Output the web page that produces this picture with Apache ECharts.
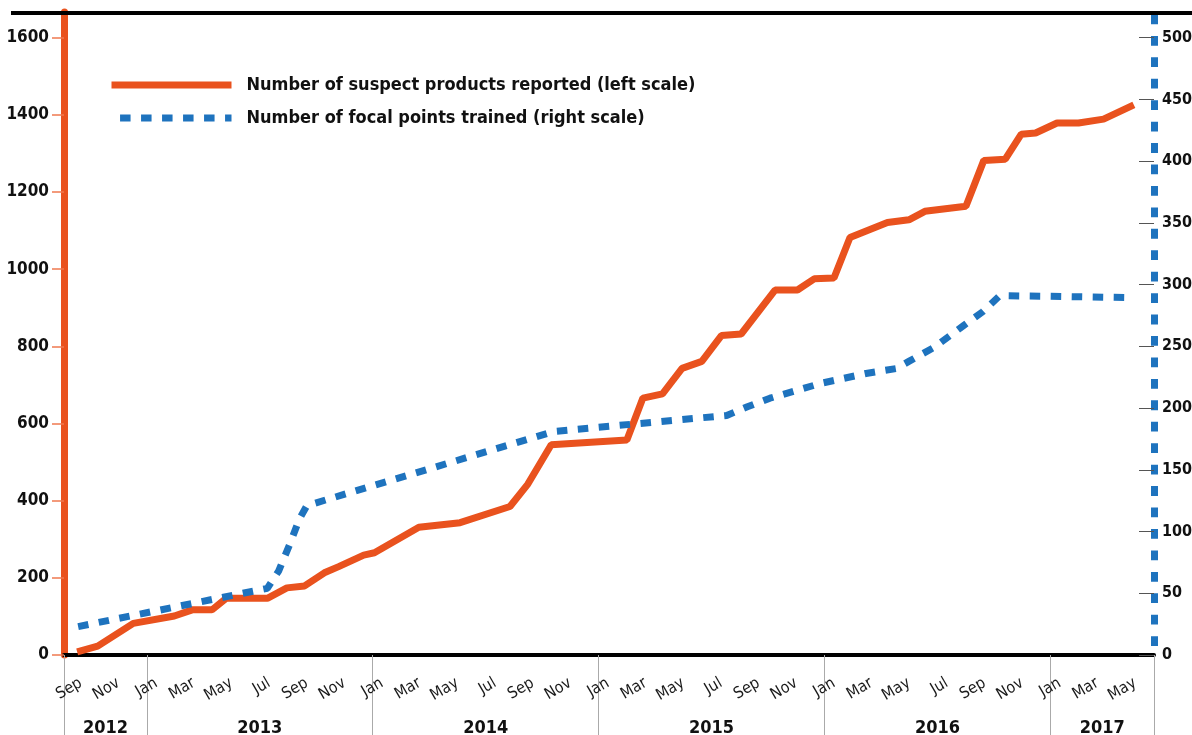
<!DOCTYPE html>
<html><head><meta charset="utf-8">
<script src="https://cdn.jsdelivr.net/npm/echarts@6/dist/echarts.min.js"></script>
<style>html,body{margin:0;padding:0;background:#fff}#c{width:1192px;height:735px}</style>
</head><body><div id="c"></div>
<script>
// ---- data (x = months since 1 Sep 2012) ----
const seriesNames = ['Number of suspect products reported (left scale)', 'Number of focal points trained (right scale)'];
const monthLabels = ['Sep','Nov','Jan','Mar','May','Jul','Sep','Nov','Jan','Mar','May','Jul','Sep','Nov','Jan','Mar','May','Jul','Sep','Nov','Jan','Mar','May','Jul','Sep','Nov','Jan','Mar','May'];
const yearLabels = ['2012','2013','2014','2015','2016','2017'];
const suspectX = [0.3,1.39,3.28,5.46,6.41,7.46,8.22,10.4,11.44,12.38,13.43,14.19,15.52,16.09,18.45,20.64,23.29,24.24,25.48,29.5,30.35,31.39,32.43,33.48,34.52,35.57,37.37,38.56,39.45,40.5,41.35,43.34,44.48,45.33,47.51,48.46,49.6,50.45,51.21,52.35,53.49,54.82,56.43];
const suspectY = [8,23,82,101,117,117,147,147,174,179,213,229,259,265,331,343,385,443,545,557,666,677,743,761,828,832,946,946,975,977,1082,1121,1128,1150,1163,1282,1285,1350,1353,1379,1379,1389,1426];
const focalX = [0.35,10.4,11.0,11.6,12.1,12.5,25.6,29.1,34.8,35.9,37.1,39.8,42.2,43.8,44.5,45.8,47.4,48.4,49.3,52.0,56.0];
const focalY = [23,54,68,90,110,121,181,186,194,201,208,220,228,232,238,249,267,278,291,290.5,289.5];

const RED = '#E9521E', BLUE = '#1E73BE';
const FONT = "'Liberation Sans Narrow','DejaVu Sans Condensed','Arial Narrow',sans-serif";
const X_MIN = -0.4, X_MAX = 57.5;
const L_MAX = 1666.6, R_MAX = 520.8;

const yearStart = y => (y - 2013) * 12 + 4;
const yearBounds = [X_MIN];
const yearCenters = [];
yearLabels.forEach(s => {
  const y = +s;
  const a = Math.max(yearStart(y), X_MIN), b = Math.min(yearStart(y) + 12, X_MAX);
  yearCenters.push((a + b) / 2);
  yearBounds.push(b);
});

const chart = echarts.init(document.getElementById('c'), null, {renderer: 'canvas'});
chart.setOption({
  animation: false,
  backgroundColor: '#fff',
  grid: {left: 64, right: 38, top: 12, bottom: 80, containLabel: false, outerBoundsMode: 'none'},
  legend: {
    orient: 'vertical', left: 108, top: 76, padding: 0, itemWidth: 120, itemHeight: 20, itemGap: 15,
    selectedMode: false, data: seriesNames,
    lineStyle: {width: 7, cap: 'butt'},
    itemStyle: {color: 'rgba(0,0,0,0)', borderWidth: 0, opacity: 0},
    textStyle: {fontFamily: FONT, fontSize: 18, fontWeight: 'bold', color: '#111', padding: [0, 0, 0, 10]}
  },
  xAxis: [
    {
      type: 'value', min: X_MIN, max: X_MAX, position: 'bottom',
      axisLine: {show: true, onZero: false, lineStyle: {color: '#000', width: 4}},
      axisTick: {show: false}, splitLine: {show: false},
      axisLabel: {
        customValues: monthLabels.map((_, i) => 2 * i + 0.5),
        rotate: 30, margin: 27, fontFamily: FONT, fontSize: 16, color: '#1a1a1a',
        formatter: v => monthLabels[Math.round((v - 0.5) / 2)] || ''
      }
    },
    {
      type: 'value', min: X_MIN, max: X_MAX, position: 'bottom',
      axisLine: {show: false, onZero: false}, splitLine: {show: false},
      axisTick: {show: true, customValues: yearBounds, length: 80, lineStyle: {color: '#aaa', width: 1}},
      axisLabel: {
        customValues: yearCenters, margin: 64, fontFamily: FONT, fontSize: 18, fontWeight: 'bold', color: '#111',
        formatter: v => yearLabels[yearCenters.findIndex(c => Math.abs(c - v) < 1e-6)] || ''
      }
    }
  ],
  yAxis: [
    {
      type: 'value', min: 0, max: L_MAX, interval: 200, position: 'left',
      axisLine: {show: true, onZero: false, lineStyle: {color: RED, width: 7}},
      axisTick: {show: true, length: 12, lineStyle: {color: '#F07A50', width: 1.5}},
      axisLabel: {margin: 15, fontFamily: FONT, fontSize: 17, fontWeight: 'bold', color: '#111', showMaxLabel: false,
        formatter: v => String(v)},
      splitLine: {show: false}
    },
    {
      type: 'value', min: 0, max: R_MAX, interval: 50, position: 'right',
      axisLine: {show: true, onZero: false, lineStyle: {color: BLUE, width: 7, type: [9.8, 11.64], dashOffset: 12.44, cap: 'butt'}},
      axisTick: {show: true, inside: true, length: 15, lineStyle: {color: '#555', width: 1}},
      axisLabel: {margin: 8, fontFamily: FONT, fontSize: 16, fontWeight: 'bold', color: '#111', showMaxLabel: false,
        formatter: v => String(v)},
      splitLine: {show: false}
    }
  ],
  series: [
    {
      name: seriesNames[0], type: 'line', xAxisIndex: 0, yAxisIndex: 0, symbol: 'none',
      data: suspectX.map((x, i) => [x, suspectY[i]]),
      lineStyle: {color: RED, width: 7}, itemStyle: {color: RED}
    },
    {
      name: seriesNames[1], type: 'line', xAxisIndex: 0, yAxisIndex: 1, symbol: 'none',
      data: focalX.map((x, i) => [x, focalY[i]]),
      lineStyle: {color: BLUE, width: 7, type: [10.5, 10.5], cap: 'butt'}, itemStyle: {color: BLUE}
    }
  ],
  graphic: [
    {type: 'line', shape: {x1: 11, y1: 13, x2: 1192, y2: 13}, style: {stroke: '#000', lineWidth: 4}, z: 100}
  ]
});
</script></body></html>
